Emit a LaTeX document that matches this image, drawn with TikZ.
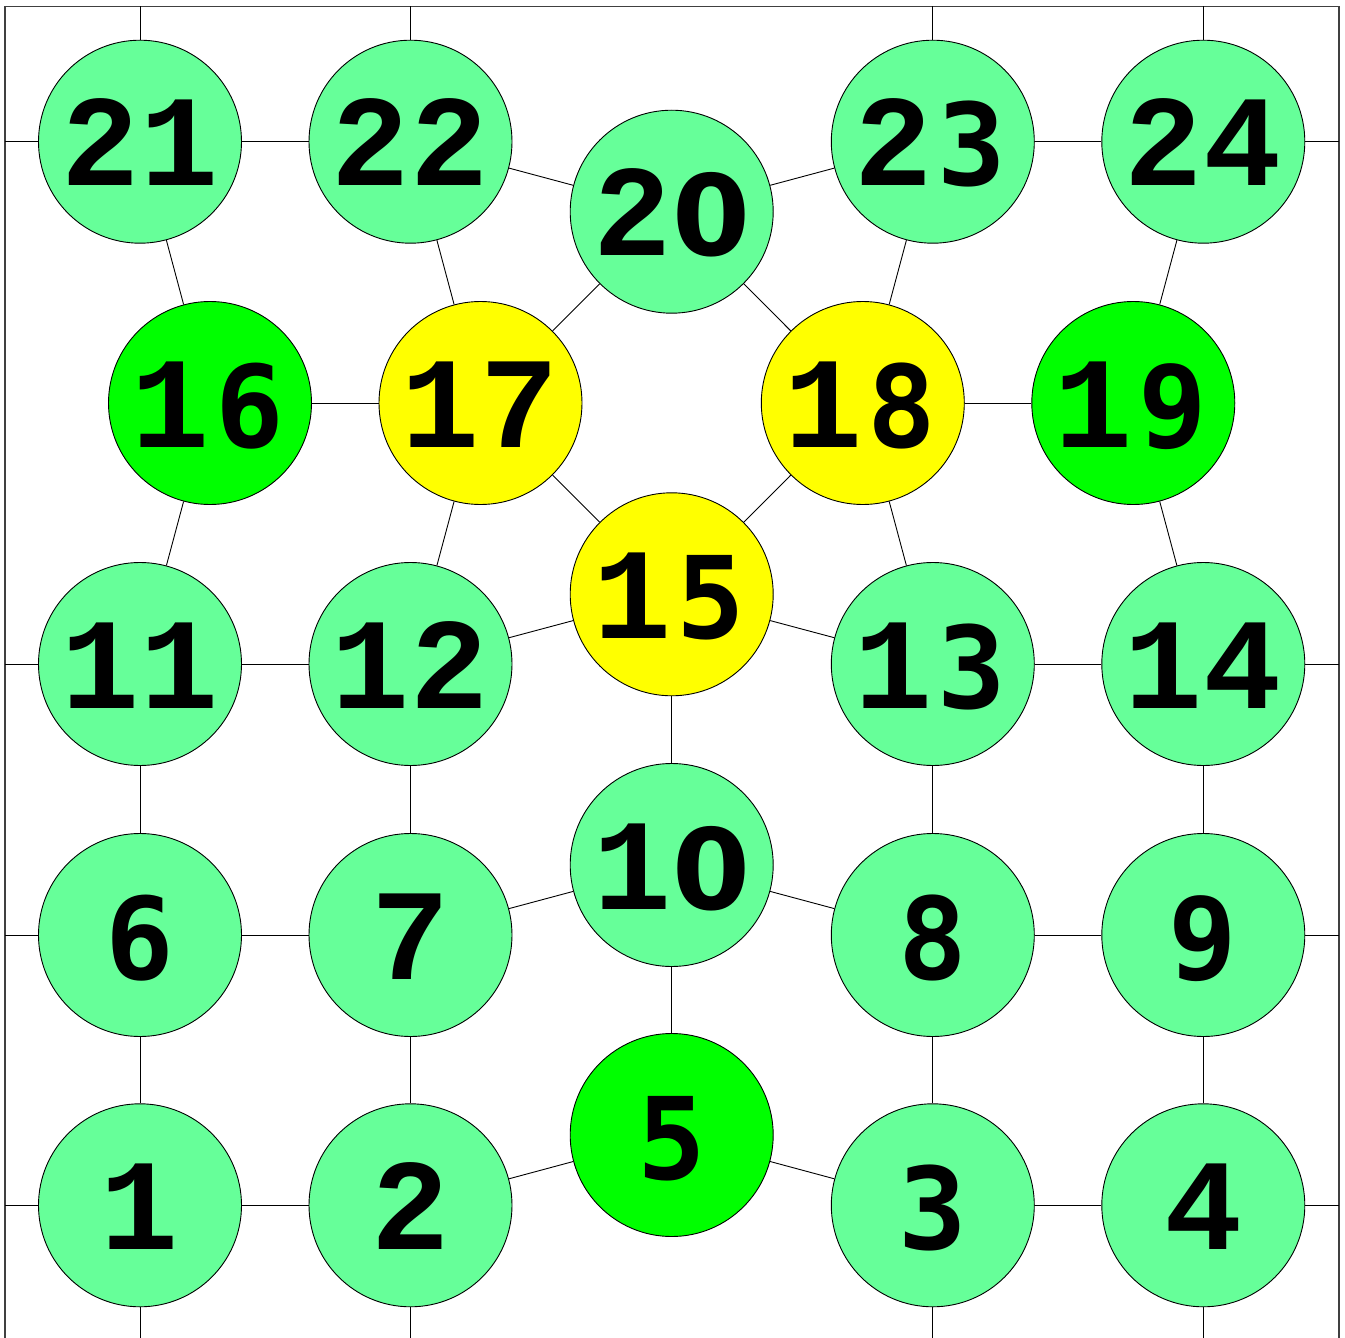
\documentclass[tikz,border=0pt]{standalone}
\usepackage{fontspec}
\newfontfamily\fontC{Liberation Mono}
\newfontfamily\fontD{DejaVu Sans Mono}
\newfontfamily\fontE{DejaVu Sans}
\newcommand\gC[1]{\makebox[79pt]{\fontC\bfseries\fontsize{130pt}{130pt}\selectfont #1}}
\newcommand\gD[1]{\makebox[79pt]{\fontD\bfseries\fontsize{114pt}{114pt}\selectfont #1}}
\newcommand\gE[1]{\makebox[79pt]{\fontE\bfseries\fontsize{112pt}{112pt}\selectfont #1}}
\definecolor{lgreen}{HTML}{66FF99}
\definecolor{vgreen}{HTML}{00FF00}
\definecolor{vyellow}{HTML}{FFFF00}
\begin{document}
\begin{tikzpicture}[x=1pt,y=-1pt,
  vtx/.style={circle,draw=black,line width=0.9pt,minimum size=203pt,inner sep=0pt,
              text height=88pt,text depth=0pt,fill=lgreen},
  gnode/.style={vtx,fill=vgreen},
  ynode/.style={vtx,fill=vyellow},
  edge/.style={draw=black,line width=0.9pt},
  frame/.style={draw=black!75,line width=1.2pt}]
\useasboundingbox (0,0) rectangle (1345,1338);
\draw[frame] (5,1338) -- (5,6.5) -- (1339,6.5) -- (1339,1338);

% row 1
\node[vtx] (n21) at (140,141.7) {\gC2\gC1};
\node[vtx] (n22) at (410.5,141.7) {\gC2\gC2};
\node[vtx] (n20) at (671.7,211.7) {\gC2\gE0};
\node[vtx] (n23) at (932.8,141.7) {\gC2\gD3};
\node[vtx] (n24) at (1203.3,141.7) {\gC2\gC4};
% row 2
\node[gnode] (n16) at (210,403) {\gC1\gD6};
\node[ynode] (n17) at (480.5,403) {\gC1\gC7};
\node[ynode] (n18) at (862.8,403) {\gC1\gD8};
\node[gnode] (n19) at (1133.3,403) {\gC1\gD9};
% row 3
\node[vtx] (n11) at (140,664) {\gC1\gC1};
\node[vtx] (n12) at (410.5,664) {\gC1\gC2};
\node[ynode] (n15) at (671.7,594.3) {\gC1\gD5};
\node[vtx] (n13) at (932.8,664) {\gC1\gD3};
\node[vtx] (n14) at (1203.3,664) {\gC1\gC4};
% row 4
\node[vtx] (n6) at (140,935) {\gD6};
\node[vtx] (n7) at (410.5,935) {\gC7};
\node[vtx] (n10) at (671.7,865) {\gC1\gE0};
\node[vtx] (n8) at (932.8,935) {\gD8};
\node[vtx] (n9) at (1203.3,935) {\gD9};
% row 5
\node[vtx] (n1) at (140,1205.3) {\gC1};
\node[vtx] (n2) at (410.5,1205.3) {\gC2};
\node[gnode] (n5) at (671.7,1135) {\gD5};
\node[vtx] (n3) at (932.8,1205.3) {\gD3};
\node[vtx] (n4) at (1203.3,1205.3) {\gC4};

% border stubs
\coordinate (t21) at (140,6.5);
\coordinate (t22) at (410.5,6.5);
\coordinate (t23) at (932.8,6.5);
\coordinate (t24) at (1203.3,6.5);
\coordinate (b1) at (140,1338);
\coordinate (b2) at (410.5,1338);
\coordinate (b3) at (932.8,1338);
\coordinate (b4) at (1203.3,1338);
\coordinate (l21) at (5,141.7);
\coordinate (l11) at (5,664);
\coordinate (l6) at (5,935);
\coordinate (l1) at (5,1205.3);
\coordinate (r24) at (1339,141.7);
\coordinate (r14) at (1339,664);
\coordinate (r9) at (1339,935);
\coordinate (r4) at (1339,1205.3);

\foreach \a/\b in {n21/t21,n22/t22,n23/t23,n24/t24,n1/b1,n2/b2,n3/b3,n4/b4,
                   n21/l21,n11/l11,n6/l6,n1/l1,n24/r24,n14/r14,n9/r9,n4/r4,
                   n21/n22,n22/n20,n20/n23,n23/n24,
                   n21/n16,n22/n17,n23/n18,n24/n19,
                   n20/n17,n20/n18,n16/n17,n18/n19,
                   n17/n15,n18/n15,
                   n16/n11,n17/n12,n18/n13,n19/n14,
                   n11/n12,n12/n15,n15/n13,n13/n14,
                   n15/n10,
                   n11/n6,n12/n7,n13/n8,n14/n9,
                   n6/n7,n7/n10,n10/n8,n8/n9,
                   n10/n5,
                   n6/n1,n7/n2,n8/n3,n9/n4,
                   n1/n2,n2/n5,n5/n3,n3/n4}
  \draw[edge] (\a) -- (\b);
\end{tikzpicture}
\end{document}
